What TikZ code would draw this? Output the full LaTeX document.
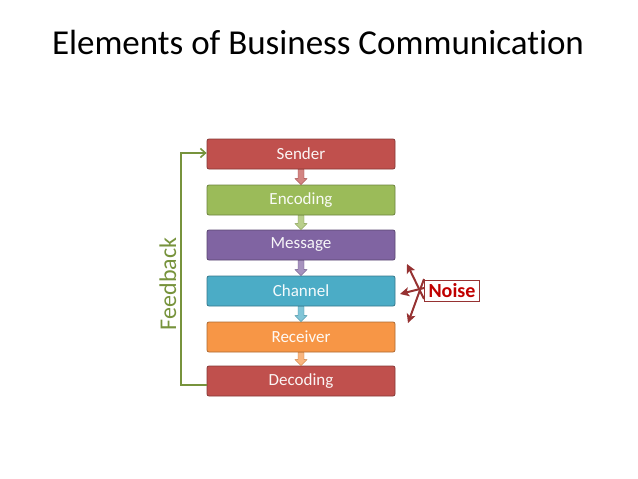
\documentclass[tikz,border=0pt]{standalone}
\usepackage{fontspec}
\setmainfont{Carlito}[Ligatures=NoCommon]
\usetikzlibrary{arrows.meta}
\definecolor{cred}{RGB}{192,80,77}
\definecolor{cgreen}{RGB}{155,187,89}
\definecolor{cpurple}{RGB}{128,100,162}
\definecolor{caqua}{RGB}{75,172,198}
\definecolor{corange}{RGB}{247,150,70}
\definecolor{fbgreen}{RGB}{119,147,60}
\definecolor{noisered}{RGB}{192,0,0}
\definecolor{noisedark}{RGB}{150,50,50}
\tikzset{
  stepbox/.style={draw=#1!70!black, fill=#1, rounded corners=2pt, minimum width=188pt, minimum height=30pt, inner sep=0pt, text=white!94!#1, font=\fontsize{17}{20}\selectfont, line width=0.8pt},
  darr/.style={fill=#1!70!white, draw=#1!80!black, line width=0.4pt},
  noisearr/.style={draw=noisedark, line width=2pt, -{Stealth[length=9pt,width=9pt,inset=2pt]}},
}
\begin{document}
\begin{tikzpicture}[x=1pt,y=-1pt]
\useasboundingbox (0,0) rectangle (638,479);
\node[font=\fontsize{35}{40}\selectfont, text=black] (title) at (318,42) {Elements of Business Communication};
\node[stepbox=cred] (s) at (301,154) {Sender};
\node[stepbox=cgreen] (e) at (301,200) {Encoding};
\node[stepbox=cpurple] (m) at (301,245) {Message};
\node[stepbox=caqua] (c) at (301,291) {Channel};
\node[stepbox=corange] (r) at (301,337) {Receiver};
\node[stepbox=cred] (d) at (301,381) {Decoding};
% small down arrows
\foreach \a/\b/\col in {s/e/cred, e/m/cgreen, m/c/cpurple, c/r/caqua, r/d/corange}{
  \path (\a.south) coordinate (top) (\b.north) coordinate (bot);
  \draw[darr=\col] ([xshift=-3pt]top) -- ([xshift=-3pt,yshift=6pt]bot) -- ([xshift=-6pt,yshift=6pt]bot) -- (bot) -- ([xshift=6pt,yshift=6pt]bot) -- ([xshift=3pt,yshift=6pt]bot) -- ([xshift=3pt]top) -- cycle;
}
% feedback
\coordinate (fb1) at (181,385);
\coordinate (fb2) at (181,153);
\draw[draw=fbgreen, line width=1.6pt, -{Straight Barb[length=5pt,width=9pt]}] (d.west |- fb1) -- (fb1) -- (fb2) -- (s.west |- fb2);
\node[rotate=90, text=fbgreen, font=\fontsize{24}{28}\selectfont] (fbt) at (168,284) {Feedback};
% noise
\node[draw=noisedark, line width=1pt, text=noisered, font=\bfseries\fontsize{20}{24}\selectfont, minimum width=55pt, minimum height=21pt, inner sep=0pt] (n) at (452,291) {Noise};
\coordinate (t1) at (407,264);
\coordinate (t2) at (400,294);
\coordinate (t3) at (408,323);
\draw[noisearr] ([yshift=-8pt]n.west) -- (t1);
\draw[noisearr] ([yshift=3pt]n.west) -- (t2);
\draw[noisearr] ([yshift=12pt]n.west) -- (t3);
\end{tikzpicture}
\end{document}
